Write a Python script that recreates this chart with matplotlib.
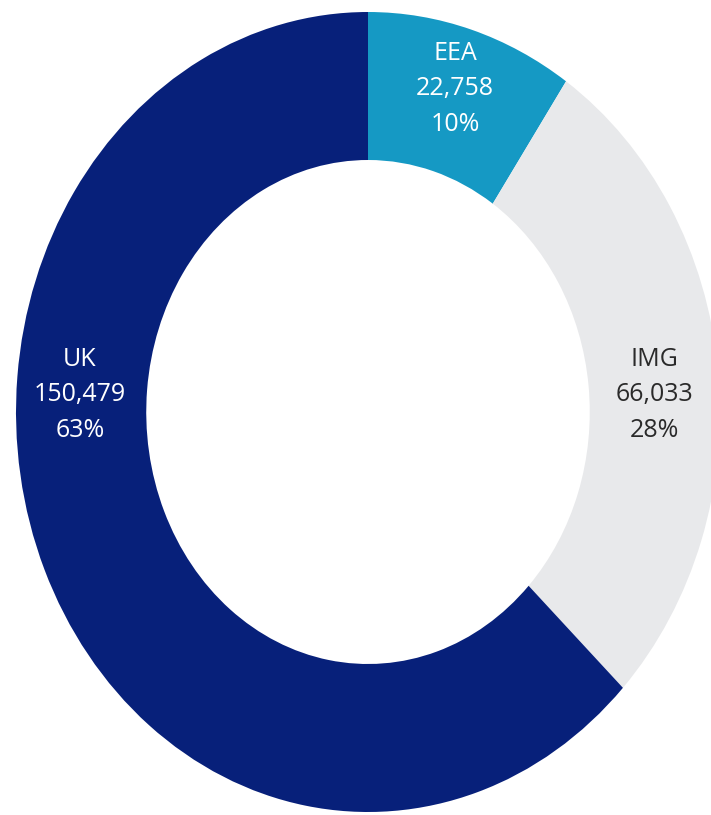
import matplotlib.pyplot as plt
import numpy as np

# data (clockwise from 12 o'clock)
regions = ["EEA", "IMG", "UK"]
counts = [22758, 66033, 150479]
colors = ["#1599C4", "#E8E9EB", "#07207A"]
text_colors = ["white", "#2a2a2a", "white"]
# label angles (degrees, counter-clockwise from 3 o'clock) and radii
label_angles = [73, 3, 177]
label_radii = [0.845, 0.815, 0.82]

total = sum(counts)

fig = plt.figure(figsize=(7.11, 8.15), dpi=100)
# ellipse spans x 16..720 px, y 3..803 px from bottom
ax = fig.add_axes([16 / 711, 3 / 815, 704 / 711, 800 / 815])

ax.pie(counts, colors=colors, startangle=90, counterclock=False,
       radius=1.0, wedgeprops=dict(width=0.37, linewidth=0))
ax.set_aspect("auto")
ax.set_xlim(-1, 1)
ax.set_ylim(-1, 1)
ax.axis("off")

for name, n, tc, ang, r in zip(regions, counts, text_colors, label_angles, label_radii):
    x = r * np.cos(np.radians(ang))
    y = r * np.sin(np.radians(ang))
    pct = round(100 * n / total)
    ax.text(x, y, "{}\n{:,}\n{}%".format(name, n, pct), ha="center", va="center",
            color=tc, fontsize=18, family="Open Sans", linespacing=1.55)

fig.savefig("out.png", dpi=100)
